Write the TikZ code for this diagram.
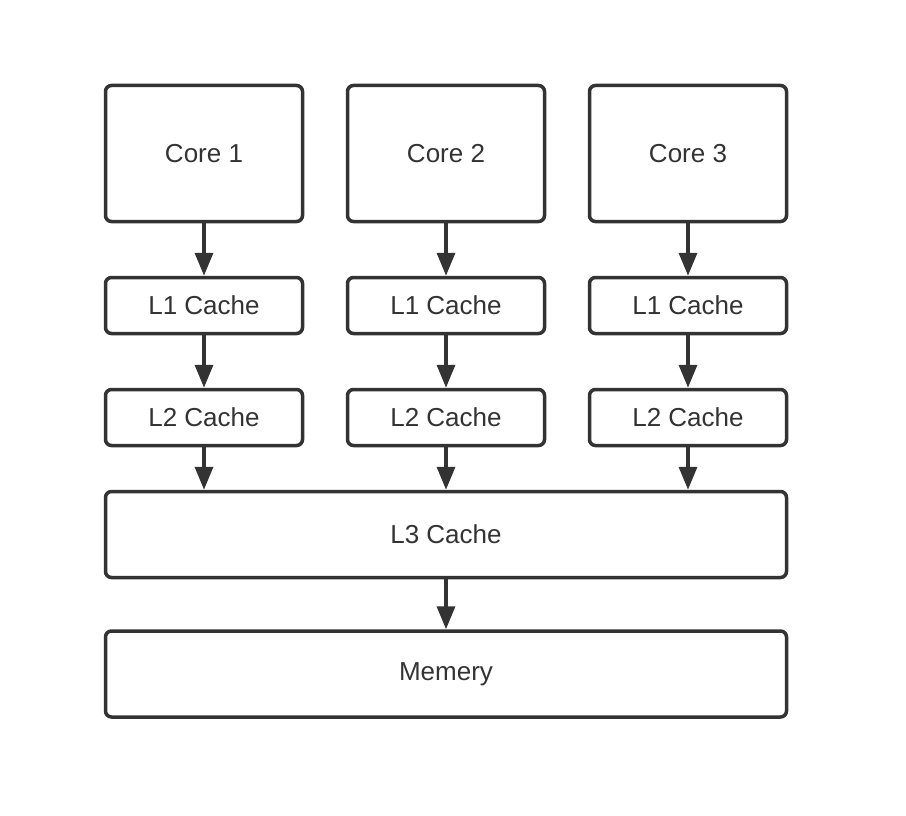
\documentclass[tikz,border=0pt]{standalone}
\usepackage{fontspec}
\setmainfont{Liberation Sans}
\usetikzlibrary{arrows.meta}
\definecolor{ink}{HTML}{333333}

\begin{document}
\begin{tikzpicture}[x=1pt, y=-1pt]
        \tikzstyle{box}=[draw=ink,line width=3.5pt,rounded corners=6pt,text=ink,font=\fontsize{26}{30}\selectfont,minimum width=197pt,inner sep=0pt]
        \tikzstyle{core}=[box,minimum height=136pt]
        \tikzstyle{cache}=[box,minimum height=56pt]
        \tikzstyle{wide}=[box,minimum width=681pt,minimum height=86pt]
        \tikzstyle{link}=[draw=ink,line width=3.5pt,-{Triangle[length=23pt,width=18pt]}]

        \useasboundingbox (0,0) rectangle (906,816);

        \node[core] (C_1) at (204,153.5) {Core 1};
        \node[core] (C_2) at (446,153.5) {Core 2};
        \node[core] (C_3) at (688,153.5) {Core 3};

        \node[cache] (L1_1) at (204,305.5) {L1 Cache};
        \node[cache] (L1_2) at (446,305.5) {L1 Cache};
        \node[cache] (L1_3) at (688,305.5) {L1 Cache};

        \node[cache] (L2_1) at (204,417.5) {L2 Cache};
        \node[cache] (L2_2) at (446,417.5) {L2 Cache};
        \node[cache] (L2_3) at (688,417.5) {L2 Cache};

        \node[wide] (L3) at (446,534.5) {L3 Cache};
        \node[wide] (M) at (446,674) {Memery};

        \foreach \i in {1,2,3} {
            \draw[link] (C_\i) -- (L1_\i);
            \draw[link] (L1_\i) -- (L2_\i);
            \draw[link] (L2_\i) -- (L2_\i.south |- L3.north);
        }
        \draw[link] (L3) -- (M);
    \end{tikzpicture}
\end{document}
